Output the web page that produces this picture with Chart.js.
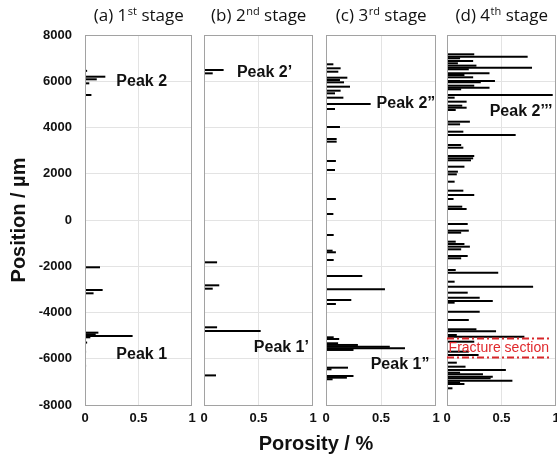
<!DOCTYPE html>
<html>
<head>
<meta charset="utf-8">
<script src="https://cdn.jsdelivr.net/npm/chart.js@4.4.1/dist/chart.umd.min.js"></script>
<style>
html,body{margin:0;padding:0;background:#fff;}
#wrap{position:relative;width:557px;height:455px;overflow:hidden;background:#fff;}
#wrap canvas{position:absolute;left:0;top:0;}
</style>
</head>
<body>
<div id="wrap">
<canvas id="c1" width="557" height="455"></canvas>
<canvas id="c2" width="557" height="455"></canvas>
<canvas id="c3" width="557" height="455"></canvas>
<canvas id="c4" width="557" height="455"></canvas>
</div>
<script>
// ---------- axis ticks ----------
const positionTicks = [-8000, -6000, -4000, -2000, 0, 2000, 4000, 6000, 8000];
const porosityTicks = [0, 0.5, 1];

// ---------- panel titles ----------
const stageLetters = ['(a) ', '(b) ', '(c) ', '(d) '];
const stageNumbers = ['1', '2', '3', '4'];
const stageSuffixes = ['st', 'nd', 'rd', 'th'];
const stageWord = ' stage';

// ---------- stage 1 ----------
const stage1Position = [6450, 6197, 6084, 5910, 5405, -2045, -3026, -3170, -4872, -4943, -5015, -5073, -5300, -5700, -6300];
const stage1Porosity = [0.02, 0.19, 0.11, 0.04, 0.06, 0.14, 0.165, 0.08, 0.125, 0.10, 0.445, 0.05, 0.02, 0.01, 0.01];
const stage1PeakText = ['Peak 2', 'Peak 1'];
const stage1PeakX = [0.53, 0.53];
const stage1PeakY = [6000, -5800];

// ---------- stage 2 ----------
const stage2Position = [6487, 6342, -1830, -2825, -2970, -4640, -4800, -6720];
const stage2Porosity = [0.18, 0.08, 0.12, 0.14, 0.08, 0.12, 0.52, 0.11];
const stage2PeakText = ['Peak 2\u2019', 'Peak 1\u2019'];
const stage2PeakX = [0.555, 0.71];
const stage2PeakY = [6357, -5535];

// ---------- stage 3 ----------
const stage3Position = [6733, 6560, 6413, 6154, 6054, 5953, 5765, 5592, 5477, 5289, 5016, 4800, 4022, 3503, 3388, 2552, 2162, 908, 260,
  -648, -1327, -1396, -1729, -2421, -2997, -3459, -3632, -5073, -5145, -5331, -5404, -5478, -5547, -5620, -6386, -6455, -6745, -6818, -6887];
const stage3Porosity = [0.067, 0.133, 0.112, 0.194, 0.127, 0.164, 0.218, 0.133, 0.082, 0.158, 0.406, 0.082, 0.127, 0.097, 0.097, 0.09, 0.082, 0.09, 0.067,
  0.07, 0.06, 0.09, 0.07, 0.33, 0.536, 0.23, 0.09, 0.07, 0.12, 0.11, 0.29, 0.58, 0.718, 0.25, 0.20, 0.05, 0.25, 0.19, 0.06];
const stage3PeakText = ['Peak 2\u201d', 'Peak 1\u201d'];
const stage3PeakX = [0.727, 0.673];
const stage3PeakY = [5016, -6269];

// ---------- stage 4 ----------
const stage4Position = [7165, 7063, 6992, 6876, 6776, 6675, 6586, 6517, 6344, 6270, 6171, 6011, 5955, 5808, 5722, 5652, 5405, 5290, 5117, 4944,
  4856, 4757, 4251, 4137, 3819, 3676, 3243, 3127, 2768, 2667, 2580, 2305, 2089, 1975, 1657, 1268, 1081, 908, 576, 476,
  -173, -461, -548, -937, -1037, -1153, -1268, -1556, -1657, -2162, -2278, -2668, -2884, -3143, -3359, -3502, -3575, -3964, -4324, -4726,
  -4812, -4972, -5045, -5262, -5694, -5837, -6170, -6343, -6486, -6602, -6672, -6775, -6846, -6948, -7019, -7092, -7278];
const stage4Porosity = [0.25, 0.74, 0.12, 0.24, 0.10, 0.27, 0.78, 0.20, 0.39, 0.16, 0.24, 0.44, 0.31, 0.25, 0.39, 0.13, 0.97, 0.07, 0.18, 0.14,
  0.18, 0.08, 0.21, 0.12, 0.15, 0.63, 0.13, 0.15, 0.25, 0.24, 0.22, 0.16, 0.10, 0.09, 0.07, 0.15, 0.25, 0.06, 0.14, 0.18,
  0.19, 0.20, 0.13, 0.08, 0.16, 0.21, 0.13, 0.19, 0.13, 0.08, 0.47, 0.07, 0.79, 0.19, 0.30, 0.42, 0.07, 0.30, 0.20, 0.27,
  0.45, 0.09, 0.71, 0.25, 0.20, 0.29, 0.09, 0.17, 0.54, 0.12, 0.33, 0.42, 0.40, 0.60, 0.12, 0.16, 0.05];
const stage4PeakText = ['Peak 2\u2019\u2019\u2019'];
const stage4PeakX = [0.68];
const stage4PeakY = [4670];
const fractureText = 'Fracture section';
const fractureBounds = [-5116, -5910];
const fractureTextY = -5547;
const fractureTextX = 0.475;
const fractureRight = 0.94;

// ---------- styling ----------
const PEAK_FONT = 'bold 16px "Liberation Sans", Arial, sans-serif';
const AXIS_FONT = 'bold 20px "Liberation Sans", Arial, sans-serif';
const TITLE_FONT = '17px "Open Sans", sans-serif';
const SUP_FONT = '11px "Open Sans", sans-serif';
const TEXT_COLOR = '#111111';
const GRID_COLOR = '#e3e3e3';
const BORDER_COLOR = '#a2a2a2';

const W = 557, H = 455;
const panels = [
  {id: 'c1', left: 85, right: 192, pos: stage1Position, val: stage1Porosity, pt: stage1PeakText, px: stage1PeakX, py: stage1PeakY},
  {id: 'c2', left: 204, right: 313, pos: stage2Position, val: stage2Porosity, pt: stage2PeakText, px: stage2PeakX, py: stage2PeakY},
  {id: 'c3', left: 326, right: 436, pos: stage3Position, val: stage3Porosity, pt: stage3PeakText, px: stage3PeakX, py: stage3PeakY},
  {id: 'c4', left: 447, right: 556, pos: stage4Position, val: stage4Porosity, pt: stage4PeakText, px: stage4PeakX, py: stage4PeakY}
];

function decoPlugin(idx, panel) {
  return {
    id: 'deco' + idx,
    afterDatasetsDraw(chart) {
      const ctx = chart.ctx;
      const a = chart.chartArea;
      const xs = chart.scales.x, ys = chart.scales.y;
      ctx.save();
      // frame
      ctx.strokeStyle = BORDER_COLOR;
      ctx.lineWidth = 1;
      ctx.strokeRect(Math.round(a.left) + 0.5, Math.round(a.top) + 0.5,
        Math.round(a.right - a.left) - 1, Math.round(a.bottom - a.top));
      // title with superscript
      const pre = stageLetters[idx] + stageNumbers[idx];
      const sup = stageSuffixes[idx];
      const post = stageWord;
      ctx.fillStyle = TEXT_COLOR;
      ctx.textAlign = 'left';
      ctx.textBaseline = 'alphabetic';
      ctx.font = TITLE_FONT;
      const w1 = ctx.measureText(pre).width;
      const w3 = ctx.measureText(post).width;
      ctx.font = SUP_FONT;
      const w2 = ctx.measureText(sup).width;
      let tx = (a.left + a.right) / 2 - (w1 + w2 + w3) / 2;
      const base = 21;
      ctx.font = TITLE_FONT; ctx.fillText(pre, tx, base); tx += w1;
      ctx.font = SUP_FONT; ctx.fillText(sup, tx + 0.5, base - 6); tx += w2 + 0.5;
      ctx.font = TITLE_FONT; ctx.fillText(post, tx, base);
      // peak labels
      ctx.font = PEAK_FONT;
      ctx.textAlign = 'center';
      ctx.textBaseline = 'middle';
      for (let i = 0; i < panel.pt.length; i++) {
        ctx.fillText(panel.pt[i], xs.getPixelForValue(panel.px[i]), ys.getPixelForValue(panel.py[i]));
      }
      // fracture section (stage 4)
      if (idx === 3) {
        ctx.strokeStyle = '#d8262a';
        ctx.lineWidth = 2;
        ctx.setLineDash([7, 3, 2, 3]);
        for (const b of fractureBounds) {
          const yy = Math.round(ys.getPixelForValue(b)) + 0.5;
          ctx.beginPath();
          ctx.moveTo(xs.getPixelForValue(0), yy);
          ctx.lineTo(xs.getPixelForValue(fractureRight), yy);
          ctx.stroke();
        }
        ctx.setLineDash([]);
        ctx.fillStyle = '#e0282c';
        ctx.font = '14px "Liberation Sans", Arial, sans-serif';
        ctx.fillText(fractureText, xs.getPixelForValue(fractureTextX), ys.getPixelForValue(fractureTextY));
      }
      // shared axis titles (drawn once)
      if (idx === 0) {
        ctx.fillStyle = TEXT_COLOR;
        ctx.font = AXIS_FONT;
        ctx.textAlign = 'center';
        ctx.textBaseline = 'middle';
        ctx.save();
        ctx.translate(19, (a.top + a.bottom) / 2);
        ctx.rotate(-Math.PI / 2);
        ctx.fillText('Position / \u00b5m', 0, 0);
        ctx.restore();
        ctx.textBaseline = 'alphabetic';
        ctx.fillText('Porosity / %', 316, 450);
      }
      ctx.restore();
    }
  };
}

function build() {
  panels.forEach((p, idx) => {
    const data = p.pos.map((y, i) => ({x: p.val[i], y: y}));
    new Chart(document.getElementById(p.id), {
      type: 'bar',
      data: {
        datasets: [{
          data: data,
          backgroundColor: '#000000',
          borderWidth: 0,
          inflateAmount: 0,
          barThickness: 2
        }]
      },
      options: {
        indexAxis: 'y',
        responsive: false,
        maintainAspectRatio: false,
        animation: false,
        devicePixelRatio: 1,
        events: [],
        layout: {padding: {left: idx === 0 ? 0 : p.left, right: W - p.right, top: 35, bottom: 25}},
        plugins: {legend: {display: false}, tooltip: {enabled: false}, title: {display: false}},
        scales: {
          x: {
            type: 'linear', position: 'bottom', min: 0, max: 1, offset: false,
            afterBuildTicks: s => { s.ticks = porosityTicks.map(v => ({value: v})); },
            afterFit: s => { s.height = 25; s.paddingLeft = 0; s.paddingRight = 0; },
            ticks: {
              font: {family: '"Liberation Sans", Arial, sans-serif', size: 13, weight: 'bold'},
              color: TEXT_COLOR, padding: 6, maxRotation: 0, autoSkip: false,
              callback: v => String(v)
            },
            grid: {offset: false, drawTicks: false, color: c => (c.tick && c.tick.value === 0.5) ? GRID_COLOR : 'rgba(0,0,0,0)'},
            border: {display: false}
          },
          y: {
            type: 'linear', position: 'left', min: -8000, max: 8000, offset: false,
            afterBuildTicks: s => { s.ticks = positionTicks.map(v => ({value: v})); },
            afterFit: s => { s.width = idx === 0 ? 85 : 0; s.paddingTop = 0; s.paddingBottom = 0; },
            ticks: {
              display: idx === 0,
              font: {family: '"Liberation Sans", Arial, sans-serif', size: 13, weight: 'bold'},
              color: TEXT_COLOR, padding: 13, autoSkip: false,
              callback: v => String(v)
            },
            grid: {offset: false, drawTicks: false, color: c => (c.tick && Math.abs(c.tick.value) === 8000) ? 'rgba(0,0,0,0)' : GRID_COLOR},
            border: {display: false}
          }
        }
      },
      plugins: [decoPlugin(idx, p)]
    });
  });
}

const fontLoads = [
  'bold 13px "Liberation Sans"', '14px "Liberation Sans"', '17px "Open Sans"'
].map(f => document.fonts ? document.fonts.load(f).catch(() => null) : Promise.resolve());
Promise.all(fontLoads).then(build, build);
</script>
</body>
</html>
